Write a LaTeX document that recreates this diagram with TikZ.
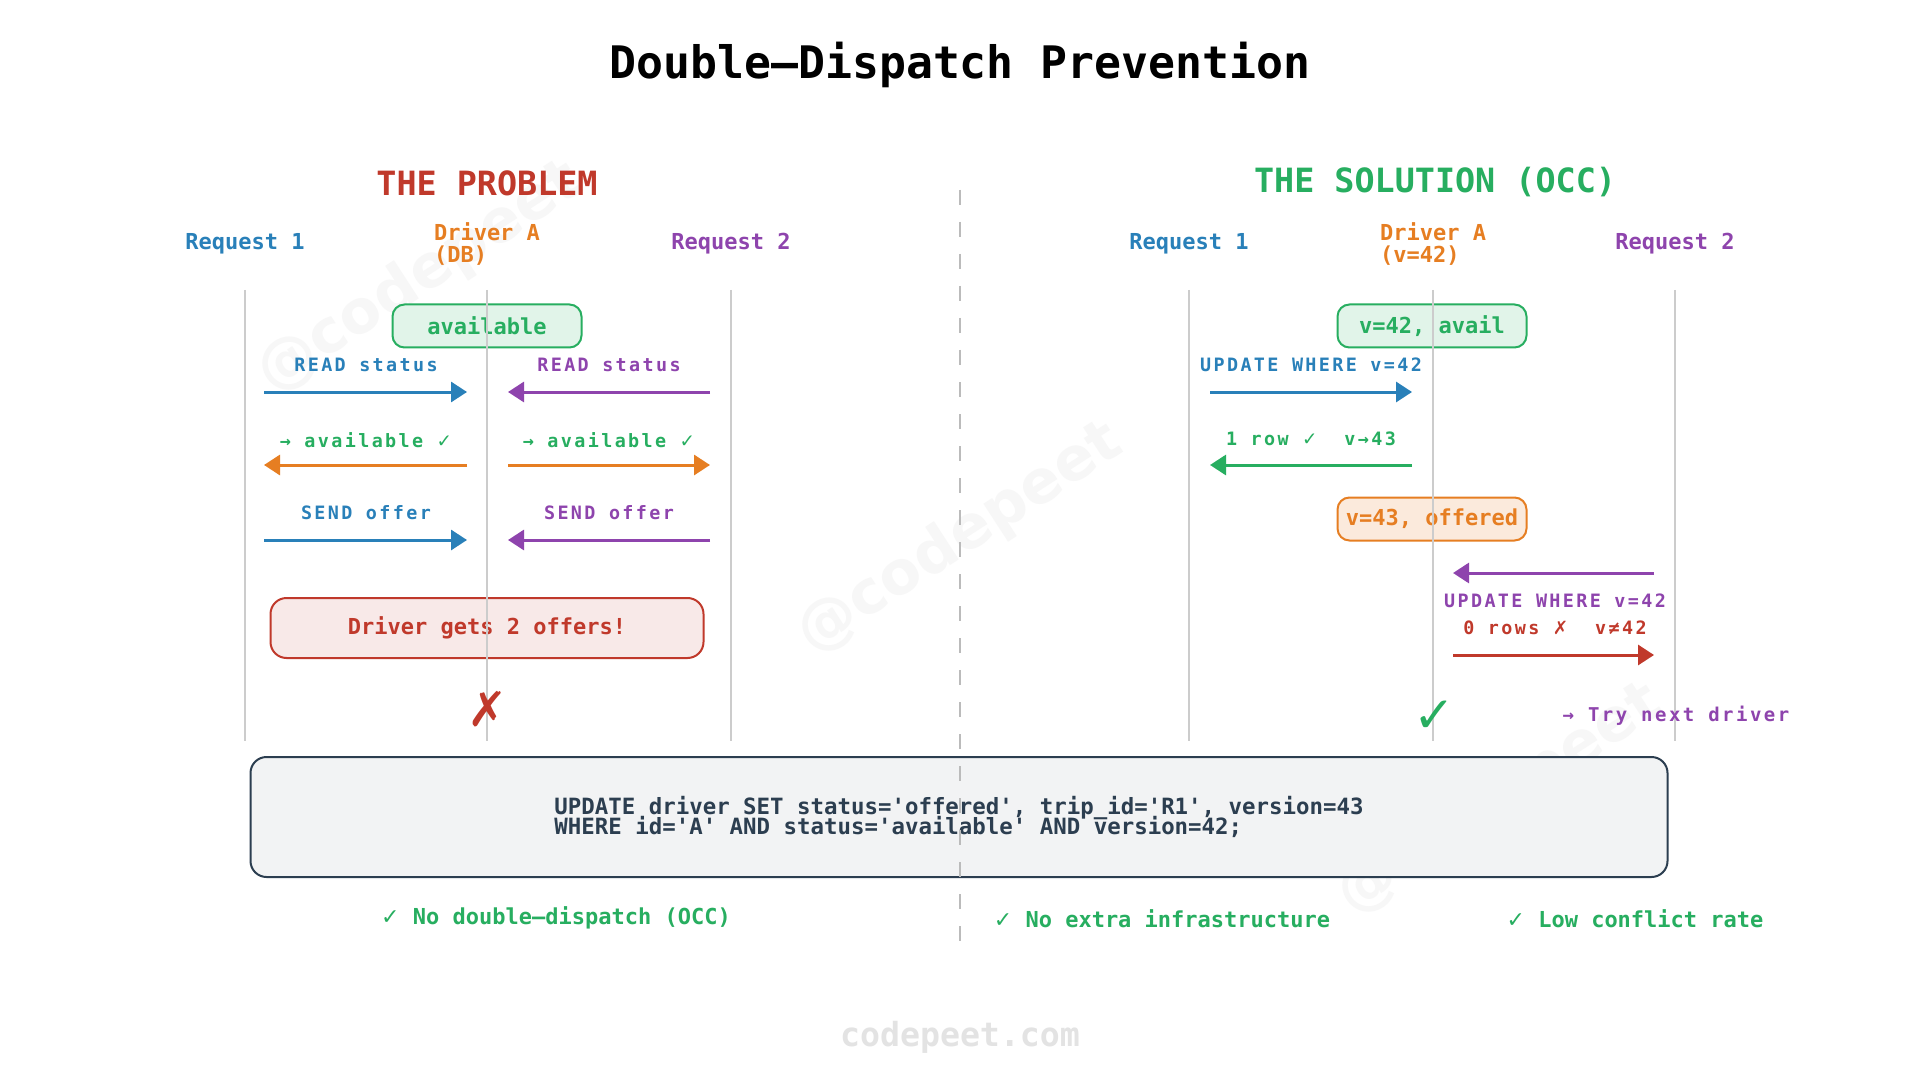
\documentclass[tikz,border=0pt]{standalone}
\usepackage{fontspec}
\setmainfont[Ligatures=ResetAll]{DejaVu Sans Mono}
\newfontfamily\spaced[LetterSpace=13, Ligatures=ResetAll]{DejaVu Sans Mono}
\newfontfamily\dvs{DejaVu Sans}
\usepackage{xcolor}
\usetikzlibrary{arrows.meta, positioning, calc}

\definecolor{cblue}{HTML}{2980B9}
\definecolor{cpurple}{HTML}{8E44AD}
\definecolor{corange}{HTML}{E67E22}
\definecolor{cred}{HTML}{C0392B}
\definecolor{cgreen}{HTML}{27AE60}
\definecolor{cdark}{HTML}{2C3E50}
\definecolor{cline}{HTML}{CCCCCC}
\definecolor{cdash}{HTML}{BBBBBB}

\newcommand{\ok}{{\dvs\mdseries ✓}}
\newcommand{\nok}{{\dvs\mdseries ✗}}
\newcommand{\sq}{\textquotesingle}
\newcommand{\tightlines}{\lineskiplimit=-20pt\relax}

\tikzset{
  msg/.style={line width=1.5pt, -{Triangle[length=8pt,width=10pt]}},
  msglabel/.style={font=\spaced\bfseries\fontsize{9.2}{10}\selectfont},
  head/.style={font={\bfseries\fontsize{11}{11}\selectfont\tightlines}, align=left},
  section/.style={font=\bfseries\fontsize{16.7}{18}\selectfont},
  statebox/.style={draw, line width=1pt, rounded corners=6pt, minimum width=94.5pt,
    minimum height=21.5pt, font=\bfseries\fontsize{11}{12}\selectfont},
  lifeline/.style={cline, line width=0.8pt},
  benefit/.style={text=cgreen, font=\bfseries\fontsize{11}{12}\selectfont},
  watermark/.style={rotate=33, text=black!3, font=\dvs\bfseries\fontsize{30}{30}\selectfont},
}

\begin{document}
\begin{tikzpicture}[x=0.5pt, y=-0.5pt]
\useasboundingbox[fill=white] (0,0) rectangle (1920,1080);

% Watermarks
\node[watermark] (wm1) at (420,278) {@codepeet};
\node[watermark] (wm2) at (960,539) {@codepeet};
\node[watermark] (wm3) at (1500,800) {@codepeet};

% Title and sections
\node[font=\bfseries\fontsize{22.4}{24}\selectfont] (title) at (960,65) {Double–Dispatch Prevention};
\node[section, text=cred] (probHead) at (487,183) {THE PROBLEM};
\node[section, text=cgreen] (solHead) at (1435,182) {THE SOLUTION (OCC)};

% Participants
\node[head, text=cblue] (pR1) at (245,244) {Request 1};
\node[head, text=corange] (pDA) at (487,244) {Driver A\\(DB)};
\node[head, text=cpurple] (pR2) at (731,244) {Request 2};
\node[head, text=cblue] (sR1) at (1189,244) {Request 1};
\node[head, text=corange] (sDA) at (1433,244) {Driver A\\(v=42)};
\node[head, text=cpurple] (sR2) at (1675,244) {Request 2};

% State boxes
\node[statebox, draw=cgreen, fill=cgreen!14, text=cgreen] (pAvail) at (487,326) {available};
\node[statebox, draw=cgreen, fill=cgreen!14, text=cgreen] (sAvail) at (1432,326) {v=42, avail};
\node[statebox, draw=corange, fill=corange!16, text=corange] (sOffered) at (1432,519) {v=43, offered};
\node[statebox, draw=cred, fill=cred!11, text=cred, minimum width=216.5pt, minimum height=30pt,
  rounded corners=8pt] (alert) at (487,628) {Driver gets 2 offers!};

% SQL box
\node[draw=cdark, line width=1pt, fill=cdark!6, rounded corners=8pt, minimum width=708.5pt,
  minimum height=60pt, text=cdark, align=left,
  font={\bfseries\fontsize{11.2}{10}\selectfont\tightlines}]
  (sql) at (959,817) {UPDATE driver SET status=\sq offered\sq, trip\_id=\sq R1\sq, version=43\\WHERE id=\sq A\sq{} AND status=\sq available\sq{} AND version=42;};

% Lifelines
\foreach \lx in {245,487,731,1189,1433,1675}
  \draw[lifeline] (\lx,290) -- (\lx,741);

% Divider
\coordinate (divTop) at (960,190);
\coordinate (divBot) at (960,943);
\draw[cdash, line width=0.9pt, dash pattern=on 7.5pt off 8.5pt] (divTop) -- (divBot);

% Problem side messages
\coordinate (pa1) at (264,392); \coordinate (pb1) at (467,392);
\coordinate (pc1) at (508,392); \coordinate (pd1) at (710,392);
\coordinate (pa2) at (264,465); \coordinate (pb2) at (467,465);
\coordinate (pc2) at (508,465); \coordinate (pd2) at (710,465);
\coordinate (pa3) at (264,540); \coordinate (pb3) at (467,540);
\coordinate (pc3) at (508,540); \coordinate (pd3) at (710,540);

\draw[msg, cblue] (pa1) -- (pb1);
\draw[msg, cpurple] (pd1) -- (pc1);
\draw[msg, corange] (pb2) -- (pa2);
\draw[msg, corange] (pc2) -- (pd2);
\draw[msg, cblue] (pa3) -- (pb3);
\draw[msg, cpurple] (pd3) -- (pc3);

\node[msglabel, text=cblue] (lRead1) at (366,365) {READ status};
\node[msglabel, text=cpurple] (lRead2) at (609,365) {READ status};
\node[msglabel, text=cgreen] (lAv1) at (366,440) {→ available \ok};
\node[msglabel, text=cgreen] (lAv2) at (609,440) {→ available \ok};
\node[msglabel, text=cblue] (lSend1) at (366,513) {SEND offer};
\node[msglabel, text=cpurple] (lSend2) at (609,513) {SEND offer};

% Solution side messages
\coordinate (sa1) at (1210,392); \coordinate (sb1) at (1412,392);
\coordinate (sa2) at (1210,465); \coordinate (sb2) at (1412,465);
\coordinate (sc4) at (1453,573); \coordinate (sd4) at (1654,573);
\coordinate (sc5) at (1453,655); \coordinate (sd5) at (1654,655);

\draw[msg, cblue] (sa1) -- (sb1);
\draw[msg, cgreen] (sb2) -- (sa2);
\draw[msg, cpurple] (sd4) -- (sc4);
\draw[msg, cred] (sc5) -- (sd5);

\node[msglabel, text=cblue] (lUpd1) at (1311,365) {UPDATE WHERE v=42};
\node[msglabel, text=cgreen] (lRow1) at (1311,439) {1 row \ok~~v→43};
\node[msglabel, text=cpurple] (lUpd2) at (1555,601) {UPDATE WHERE v=42};
\node[msglabel, text=cred] (lRow0) at (1555,628) {0 rows \nok~~v≠42};
\node[msglabel, text=cpurple, font=\spaced\bfseries\fontsize{9.5}{10}\selectfont] (lNext) at (1676,716) {→ Try next driver};

% Outcome marks
\node[text=cred, font=\dvs\fontsize{24}{24}\selectfont] (markFail) at (488,709) {✗};
\node[text=cgreen, font=\dvs\fontsize{25}{25}\selectfont] (markOk) at (1434,717) {✓};

% Benefits
\node[benefit] (bNoDouble) at (556,918) {\ok{} No double–dispatch (OCC)};
\node[benefit] (bNoInfra) at (1162,919) {\ok{} No extra infrastructure};
\node[benefit] (bLowConf) at (1635,919) {\ok{} Low conflict rate};

% Footer
\node[text=black!11, font=\bfseries\fontsize{16.6}{18}\selectfont] (footer) at (960,1037) {codepeet.com};
\end{tikzpicture}
\end{document}
